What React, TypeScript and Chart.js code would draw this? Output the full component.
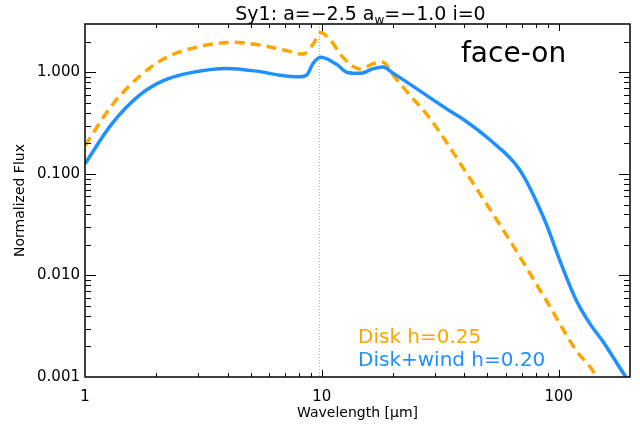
import React, { useEffect, useRef } from "react";
import { Chart, registerables } from "chart.js";

Chart.register(...registerables);

// Disk+wind h=0.20 (blue, solid)
const windWavelength = [1.0, 1.3, 1.7, 2.14, 2.77, 3.96, 5.3, 6.65, 7.94, 8.62, 9.19, 9.87, 11.5, 12.8, 14.5, 16.5, 18.1, 19.9, 34.6, 38.8, 51.2, 68.4, 87.3, 100.6, 119, 136, 153, 192, 205];
const windFlux = [0.126, 0.313, 0.597, 0.83, 0.99, 1.096, 1.03, 0.94, 0.906, 0.94, 1.23, 1.41, 1.21, 1.0, 0.98, 1.09, 1.13, 0.99, 0.42, 0.356, 0.217, 0.11, 0.035, 0.0145, 0.0056, 0.0033, 0.00227, 0.001, 0.0008];

// Disk h=0.25 (orange, dashed)
const diskWavelength = [1.0, 1.3, 1.69, 2.2, 2.96, 4.22, 5.47, 7.1, 8.0, 8.34, 9.19, 9.87, 10.8, 12.3, 14.5, 16.5, 18.1, 19.9, 22.8, 28.5, 42.1, 62.1, 88.7, 119, 141, 150];
const diskFlux = [0.19, 0.475, 0.906, 1.4, 1.77, 1.98, 1.86, 1.64, 1.53, 1.52, 1.9, 2.47, 2.12, 1.4, 1.08, 1.22, 1.26, 0.955, 0.65, 0.356, 0.091, 0.0222, 0.00565, 0.0018, 0.0011, 0.0008];

const xTickValues = [1, 10, 100];
const yTickValues = [0.001, 0.01, 0.1, 1];
const xRange = [1, 200];
const yRange = [0.001, 3];
const silicateWavelength = 9.7;

const FONT = "'DejaVu Sans', sans-serif";
const BLUE = "#1E90FF";
const ORANGE = "#FFA500";

const decoPlugin = {
  id: "deco",
  beforeDatasetsDraw(chart: any) {
    const { ctx, chartArea, scales } = chart;
    const px = Math.round(scales.x.getPixelForValue(silicateWavelength)) + 0.5;
    ctx.save();
    ctx.strokeStyle = "#a8a8a8";
    ctx.lineWidth = 1;
    ctx.setLineDash([1, 2]);
    ctx.beginPath();
    ctx.moveTo(px, chartArea.top);
    ctx.lineTo(px, chartArea.bottom);
    ctx.stroke();
    ctx.restore();
  },
  afterDraw(chart: any) {
    const { ctx, chartArea, scales } = chart;
    const { left, right, top, bottom } = chartArea;
    ctx.save();
    // ticks
    ctx.strokeStyle = "#000";
    ctx.lineWidth = 1;
    ctx.beginPath();
    for (const d of [1, 10, 100]) {
      for (let m = 1; m <= 9; m++) {
        const v = m * d;
        if (v <= xRange[0] || v >= xRange[1]) continue;
        const p = Math.round(scales.x.getPixelForValue(v)) + 0.5;
        const len = m === 1 ? 7 : 4;
        ctx.moveTo(p, bottom);
        ctx.lineTo(p, bottom - len);
        ctx.moveTo(p, top);
        ctx.lineTo(p, top + len);
      }
    }
    for (const d of [0.001, 0.01, 0.1, 1]) {
      for (let m = 1; m <= 9; m++) {
        const v = m * d;
        if (v <= yRange[0] || v >= yRange[1]) continue;
        const p = Math.round(scales.y.getPixelForValue(v)) + 0.5;
        const len = m === 1 ? 11 : 6;
        ctx.moveTo(left, p);
        ctx.lineTo(left + len, p);
        ctx.moveTo(right, p);
        ctx.lineTo(right - len, p);
      }
    }
    ctx.stroke();
    // frame
    ctx.lineWidth = 1.5;
    ctx.strokeRect(left, top, right - left, bottom - top);

    // texts
    ctx.fillStyle = "#000";
    ctx.textBaseline = "alphabetic";
    // title with subscript
    const mainSize = 19;
    const subSize = 12;
    const p1 = "Sy1: a=\u22122.5 a";
    const pSub = "w";
    const p2 = "=\u22121.0 i=0";
    ctx.font = `${mainSize}px ${FONT}`;
    const w1 = ctx.measureText(p1).width;
    const w3 = ctx.measureText(p2).width;
    ctx.font = `${subSize}px ${FONT}`;
    const w2 = ctx.measureText(pSub).width;
    const total = w1 + w2 + w3;
    let tx = (left + right) / 2 + 3 - total / 2;
    const ty = 20;
    ctx.textAlign = "left";
    ctx.font = `${mainSize}px ${FONT}`;
    ctx.fillText(p1, tx, ty);
    tx += w1;
    ctx.font = `${subSize}px ${FONT}`;
    ctx.fillText(pSub, tx, ty + 4);
    tx += w2;
    ctx.font = `${mainSize}px ${FONT}`;
    ctx.fillText(p2, tx, ty);

    // face-on
    ctx.font = `28px ${FONT}`;
    ctx.fillText("face-on", 461, 62);

    // legend texts
    ctx.font = `20px ${FONT}`;
    ctx.fillStyle = ORANGE;
    ctx.fillText("Disk h=0.25", 358, 343);
    ctx.fillStyle = BLUE;
    ctx.fillText("Disk+wind h=0.20", 358, 366);

    // axis titles
    ctx.fillStyle = "#000";
    ctx.font = `14px ${FONT}`;
    ctx.textAlign = "center";
    ctx.fillText("Wavelength [\u03bcm]", (left + right) / 2, 417);
    ctx.translate(24, (top + bottom) / 2);
    ctx.rotate(-Math.PI / 2);
    ctx.fillText("Normalized Flux", 0, 0);
    ctx.restore();
  },
};

export default function App() {
  const ref = useRef<HTMLCanvasElement>(null);
  useEffect(() => {
    if (!ref.current) return;
    const chart = new Chart(ref.current, {
      type: "line",
      data: {
        datasets: [
          {
            label: "Disk+wind h=0.20",
            data: windWavelength.map((x, i) => ({ x, y: windFlux[i] })),
            borderColor: BLUE,
            borderWidth: 3.5,
            pointRadius: 0,
            fill: false,
            cubicInterpolationMode: "monotone",
          },
          {
            label: "Disk h=0.25",
            data: diskWavelength.map((x, i) => ({ x, y: diskFlux[i] })),
            borderColor: ORANGE,
            borderWidth: 3.5,
            borderDash: [10, 6],
            pointRadius: 0,
            fill: false,
            cubicInterpolationMode: "monotone",
          },
        ],
      },
      options: {
        animation: false,
        responsive: false,
        devicePixelRatio: 1,
        layout: { padding: { top: 24, right: 10, left: 0, bottom: 0 } },
        plugins: {
          legend: { display: false },
          title: { display: false },
          tooltip: { enabled: false },
        },
        scales: {
          x: {
            type: "logarithmic",
            min: xRange[0],
            max: xRange[1],
            grid: { display: false, drawTicks: false },
            border: { display: false },
            ticks: {
              autoSkip: false,
              maxRotation: 0,
              padding: 11,
              color: "#000",
              font: { family: FONT, size: 15 },
              callback: (v: any) => String(v),
            },
            afterBuildTicks: (s: any) => {
              s.ticks = xTickValues.map((v) => ({ value: v }));
            },
            afterFit: (s: any) => {
              s.height = 57;
            },
          },
          y: {
            type: "logarithmic",
            min: yRange[0],
            max: yRange[1],
            grid: { display: false, drawTicks: false },
            border: { display: false },
            ticks: {
              autoSkip: false,
              padding: 5,
              color: "#000",
              font: { family: FONT, size: 15 },
              callback: (v: any) => Number(v).toFixed(3),
            },
            afterBuildTicks: (s: any) => {
              s.ticks = yTickValues.map((v) => ({ value: v }));
            },
            afterFit: (s: any) => {
              s.width = 85;
            },
          },
        },
      },
      plugins: [decoPlugin],
    } as any);
    return () => chart.destroy();
  }, []);
  return (
    <div style={{ position: "absolute", left: 0, top: 0, width: 640, height: 434 }}>
      <canvas ref={ref} width={640} height={434} />
    </div>
  );
}
